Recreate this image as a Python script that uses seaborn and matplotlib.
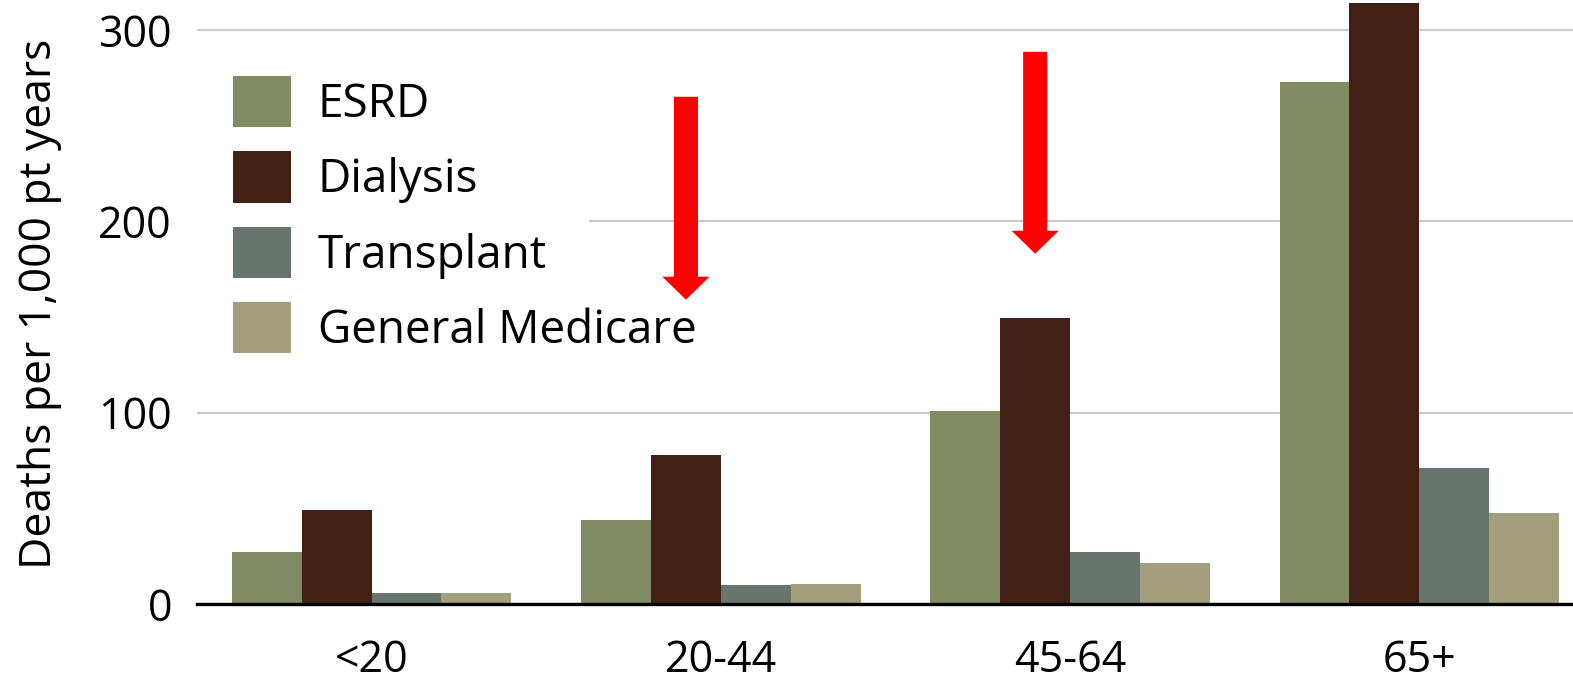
import matplotlib
matplotlib.use("Agg")
import matplotlib.pyplot as plt
from matplotlib.patches import Rectangle
import seaborn as sns
import pandas as pd

# Mortality by age group and treatment modality
age_groups = ["<20", "20-44", "45-64", "65+"]
esrd = [27, 44, 101, 272.5]
dialysis = [49, 78, 149.5, 314]
transplant = [6, 10, 27, 71]
general_medicare = [5.5, 10.7, 21.5, 47.5]
series_names = ["ESRD", "Dialysis", "Transplant", "General Medicare"]
series_colors = ["#808A63", "#432016", "#68756C", "#A39E7B"]
y_ticks = [0, 100, 200, 300]

# Highlight arrows over the dialysis bars (group index, top value, tip value)
arrow_groups = [1, 2]
arrow_top = [265, 288.5]
arrow_tip = [159, 183]

rows = []
for name, vals in zip(series_names, [esrd, dialysis, transplant, general_medicare]):
    for g, v in zip(age_groups, vals):
        rows.append({"age": g, "series": name, "deaths": v})
df = pd.DataFrame(rows)

sns.set_theme(style="white")
plt.rcParams["font.family"] = ["Open Sans", "DejaVu Sans"]
plt.rcParams["text.color"] = "black"

W, H = 1573, 682
fig = plt.figure(figsize=(W / 100, H / 100), dpi=100)
ax = fig.add_axes([197 / W, 78 / H, (W - 197) / W, 601 / H])

sns.barplot(data=df, x="age", y="deaths", hue="series", order=age_groups,
            hue_order=series_names, palette=series_colors, saturation=1,
            width=0.8, ax=ax, zorder=2, linewidth=0)

ax.set_ylim(0, 314)
ax.set_xlim(-0.5, 3.44)
ax.set_yticks(y_ticks)
ax.yaxis.grid(True, color="#CCCCCC", linewidth=1.6, zorder=0)
ax.set_axisbelow(True)
for s in ["left", "right", "top"]:
    ax.spines[s].set_visible(False)
ax.spines["bottom"].set_color("black")
ax.spines["bottom"].set_linewidth(2.4)
ax.spines["bottom"].set_zorder(5)
ax.tick_params(axis="both", length=0, labelsize=31, colors="black")
ax.tick_params(axis="y", pad=18)
ax.tick_params(axis="x", pad=25)
ax.set_xlabel("")
ax.set_ylabel("Deaths per 1,000 pt years", fontsize=32, color="black", labelpad=26)

# Red arrows above the dialysis bars
n = len(series_names)
bar_w = 0.8 / n
dial_offset = -0.4 + bar_w * 1.5
for g, top, tip in zip(arrow_groups, arrow_top, arrow_tip):
    x = g + dial_offset
    head_len = 12
    ax.arrow(x, top, 0, -(top - tip - head_len), width=0.069, head_width=0.135,
             head_length=head_len, length_includes_head=False,
             color="#FF0000", linewidth=0, zorder=6)

# White backing behind the legend block
ax.add_patch(Rectangle((0, 0.42), (589 - 197) / (W - 197), 0.48,
                       transform=ax.transAxes, facecolor="white",
                       edgecolor="none", zorder=1))

handles, labels = ax.get_legend_handles_labels()
ax.legend(handles, labels, loc="upper left", bbox_to_anchor=(219 / W, 1 - 62 / H),
          bbox_transform=fig.transFigure, frameon=False, fontsize=33,
          handlelength=1.27, handleheight=1.35, labelspacing=0.51,
          handletextpad=0.58, borderpad=0.3, borderaxespad=0)

fig.savefig("out.png", dpi=100)
